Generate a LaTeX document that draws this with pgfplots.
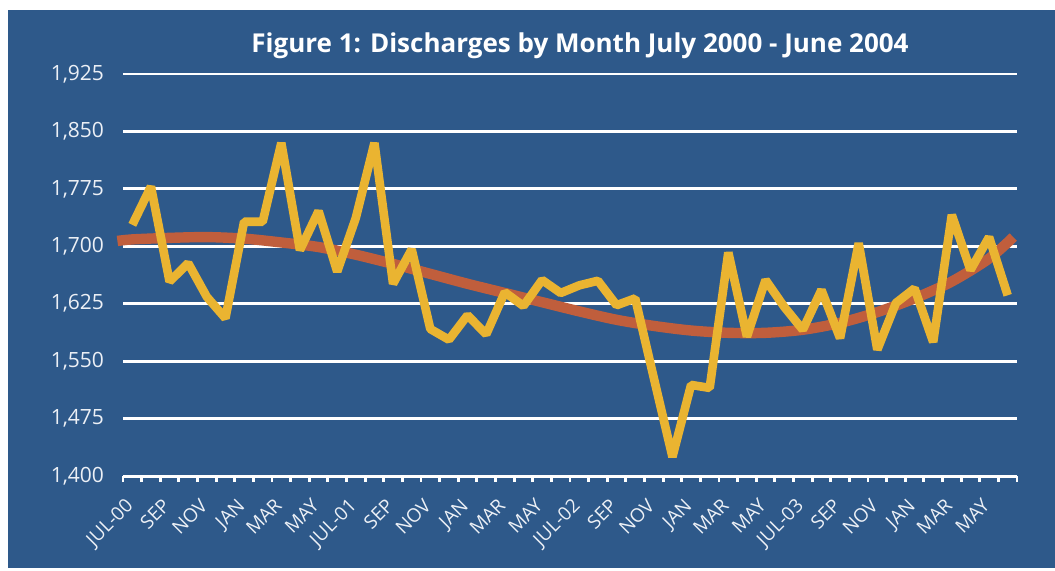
\documentclass[border=0pt]{standalone}
\usepackage{pgfplots}
\pgfplotsset{compat=1.18}
\usepackage{fontspec}
\setmainfont{Open Sans}
\definecolor{bg}{RGB}{46,89,138}
\definecolor{lineyellow}{RGB}{234,180,49}
\definecolor{trendred}{RGB}{192,94,60}
\definecolor{labelwhite}{RGB}{236,240,246}
\begin{document}
\begin{tikzpicture}
\fill[white] (-61.5pt,-47pt) rectangle (466pt,238pt);
\fill[bg] (-57.5pt,-46pt) rectangle (466pt,233pt);
\begin{axis}[
  at={(0pt,0pt)}, anchor=south west,
  scale only axis, width=447pt, height=201pt,
  xmin=-0.5, xmax=47.5, ymin=1400, ymax=1925,
  axis x line*=bottom, axis y line*=left,
  y axis line style={draw=none},
  x axis line style={white, line width=1.5pt},
  ytick={1400,1475,...,1925},
  ymajorgrids, grid style={white, line width=1.4pt},
  ytick style={draw=none},
  major tick length=0pt,
  tick align=outside,
  minor xtick={-0.5,0.5,...,47.5},
  minor tick length=3pt,
  minor x tick style={white, line width=1.4pt},
  xtick={0,2,...,46},
  xticklabels={JUL-00,SEP,NOV,JAN,MAR,MAY,JUL-01,SEP,NOV,JAN,MAR,MAY,JUL-02,SEP,NOV,JAN,MAR,MAY,JUL-03,SEP,NOV,JAN,MAR,MAY},
  xticklabel style={xshift=-4pt, yshift=-9pt, rotate=45, anchor=north east, inner sep=1pt, font=\fontsize{9.5}{10}\selectfont, text=labelwhite},
  yticklabel style={font=\fontsize{10.5}{12}\selectfont, text=labelwhite, xshift=-6pt},
  /pgf/number format/1000 sep={,},
  /pgf/number format/assume math mode=true,
  clip=false,
]
\addplot[trendred, line width=5.2pt, smooth] coordinates {
(-0.8,1707) (0,1709) (2,1711) (4,1712) (6,1710) (8,1705) (10,1699) (12,1689)
(14,1677) (16,1664) (18,1651) (20,1639) (22,1627) (24,1615) (26,1604) (28,1596)
(30,1590) (32,1587) (34,1587) (36,1591) (38,1600) (40,1614) (42,1632) (44,1654)
(46,1684) (47.3,1712)
};
\addplot[lineyellow, line width=4.3pt, line join=bevel] coordinates {
(0,1728) (1,1778) (2,1654) (3,1678) (4,1634) (5,1606) (6,1732) (7,1732)
(8,1835) (9,1695) (10,1746) (11,1667) (12,1737) (13,1835) (14,1651) (15,1696)
(16,1592) (17,1578) (18,1610) (19,1585) (20,1640) (21,1622) (22,1656) (23,1639)
(24,1649) (25,1655) (26,1623) (27,1632) (28,1528) (29,1425) (30,1519) (31,1515)
(32,1692) (33,1582) (34,1656) (35,1621) (36,1591) (37,1643) (38,1580) (39,1704)
(40,1565) (41,1626) (42,1645) (43,1575) (44,1741) (45,1669) (46,1712) (47,1636)
};
\end{axis}
\node[anchor=base, text=white, font=\bfseries\fontsize{13}{15}\selectfont] at (228.5pt,212pt) {Figure 1: Discharges by Month July 2000 - June 2004};
\end{tikzpicture}
\end{document}
